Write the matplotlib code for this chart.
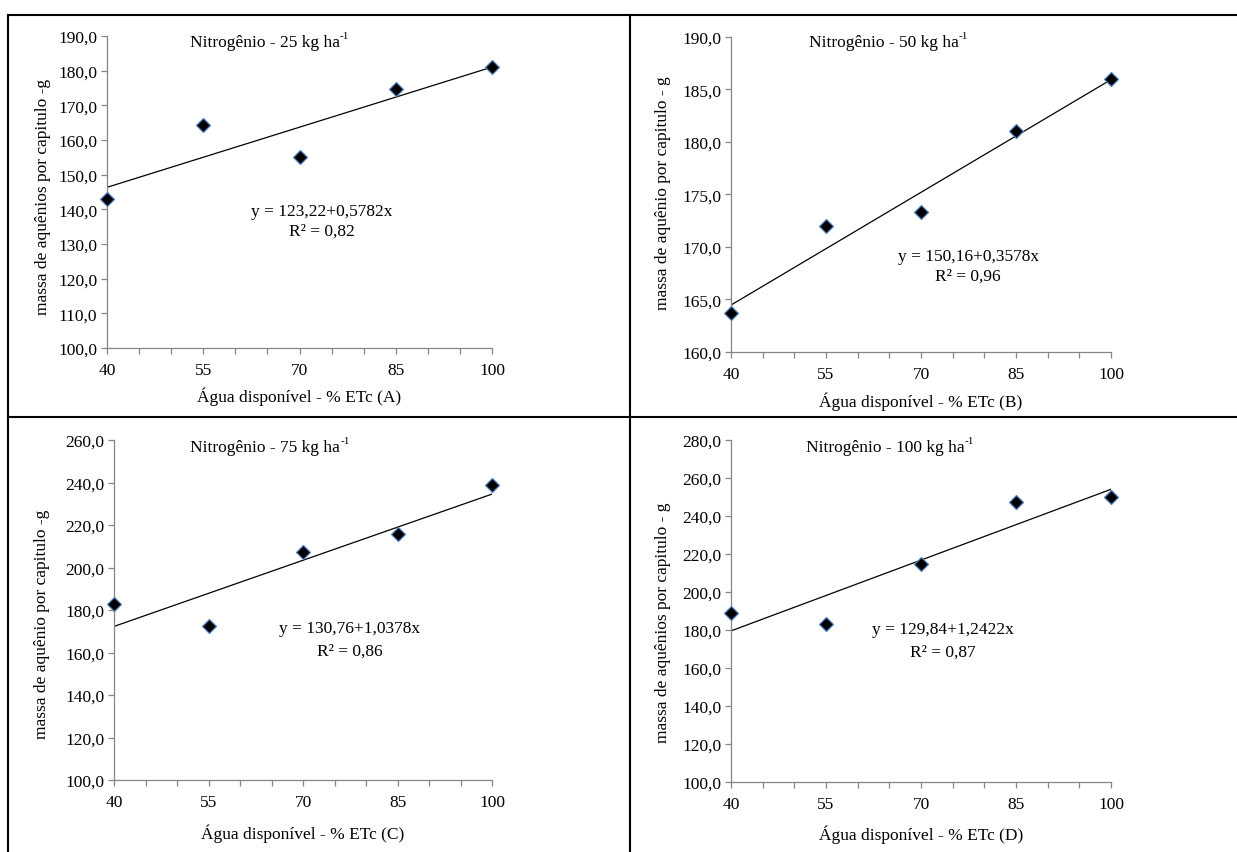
import matplotlib
matplotlib.use('Agg')
import matplotlib.pyplot as plt
from matplotlib.lines import Line2D
from matplotlib.ticker import FuncFormatter, MultipleLocator, FixedLocator

plt.rcParams['font.family'] = ['Liberation Serif', 'DejaVu Serif']

agua = [40, 55, 70, 85, 100]

massa_25 = [143.0, 164.3, 155.2, 174.7, 181.1]
massa_50 = [163.7, 172.0, 173.3, 181.0, 186.0]
massa_75 = [182.7, 172.6, 207.1, 215.7, 239.0]
massa_100 = [189.1, 183.0, 214.8, 247.2, 250.0]

intercepto = [123.22, 150.16, 130.76, 129.84]
inclinacao = [0.5782, 0.3578, 1.0378, 1.2422]
r2 = ['0,82', '0,96', '0,86', '0,87']
doses = ['25', '50', '75', '100']
letras = ['A', 'B', 'C', 'D']
ylabels = ['massa de aquênios por capitulo -g',
           'massa de aquênio por capitulo - g',
           'massa de aquênio por capitulo -g',
           'massa de aquênios por capitulo - g']
ylims = [(100, 190, 10), (160, 190, 5), (100, 260, 20), (100, 280, 20)]

W, H = 1237, 853
fig = plt.figure(figsize=(W / 100, H / 100), dpi=100)

# pixel boxes of each plot area: x0, y0(top), x1, y1(bottom)
caixas = [(107, 37, 492, 349), (731, 38, 1111, 353),
          (114, 441, 492, 781), (731, 441, 1111, 783)]
# text positions in axes fraction
titulo_pos = [(0.410, 0.981), (0.403, 0.984), (0.400, 0.979), (0.406, 0.980)]
eq_pos = [(0.558, 0.439, 0.375), (0.624, 0.305, 0.241),
          (0.624, 0.447, 0.379), (0.558, 0.447, 0.380)]
ylab_pos = [(-0.166, 0.487), (-0.179, 0.508), (-0.190, 0.46), (-0.179, 0.47)]
xlab_y = [-0.154, -0.155, -0.156, -0.152]

series = [massa_25, massa_50, massa_75, massa_100]
cinza = '#868686'
fs = 12.5

for i in range(4):
    x0, y0, x1, y1 = caixas[i]
    ax = fig.add_axes([x0 / W, 1 - y1 / H, (x1 - x0) / W, (y1 - y0) / H])
    ymin, ymax, passo = ylims[i]

    xs = [agua[0], agua[-1]]
    ys = [intercepto[i] + inclinacao[i] * v for v in xs]
    ax.plot(xs, ys, color='black', lw=0.9, zorder=2)
    ax.plot(agua, series[i], linestyle='none', marker='D', markersize=7,
            markerfacecolor='black', markeredgecolor='#4F81BD',
            markeredgewidth=0.9, clip_on=False, zorder=3)

    ax.set_xlim(40, 100)
    ax.set_ylim(ymin, ymax)
    ax.xaxis.set_major_locator(FixedLocator(agua))
    ax.xaxis.set_minor_locator(MultipleLocator(5))
    ax.yaxis.set_major_locator(MultipleLocator(passo))
    ax.yaxis.set_major_formatter(FuncFormatter(lambda v, p: f'{v:.1f}'.replace('.', ',')))

    for s in ['top', 'right']:
        ax.spines[s].set_visible(False)
    for s in ['left', 'bottom']:
        ax.spines[s].set_color(cinza)
        ax.spines[s].set_linewidth(0.9)
    ax.tick_params(axis='both', which='both', color=cinza, width=0.9, length=4,
                   labelsize=fs, direction='out')
    ax.tick_params(axis='x', pad=6)
    ax.tick_params(axis='y', pad=3)

    ax.set_xlabel(f'Água disponível - % ETc ({letras[i]})', fontsize=fs, va='center')
    ax.xaxis.set_label_coords(0.5, xlab_y[i])
    ax.set_ylabel(ylabels[i], fontsize=fs, va='center')
    ax.yaxis.set_label_coords(*ylab_pos[i])

    tx, ty = titulo_pos[i]
    t = ax.text(tx, ty, f'Nitrogênio - {doses[i]} kg ha',
                transform=ax.transAxes, ha='center', va='center', fontsize=fs)
    ax.annotate('-1', xy=(1, 0.62), xycoords=t, ha='left', va='bottom', fontsize=8)
    ex, ey, ry = eq_pos[i]
    eq = f'y = {intercepto[i]:.2f}+{inclinacao[i]:.4f}x'.replace('.', ',')
    ax.text(ex, ey, eq, transform=ax.transAxes, ha='center', va='center', fontsize=fs)
    ax.text(ex, ry, f'R² = {r2[i]}', transform=ax.transAxes, ha='center',
            va='center', fontsize=fs)

# table borders around the panels
def linha(xa, ya, xb, yb):
    fig.add_artist(Line2D([xa / W, xb / W], [1 - ya / H, 1 - yb / H],
                          color='black', lw=1.5))

linha(8, 16, W, 16)
linha(8, 418, W, 418)
linha(8, 16, 8, H)
linha(630, 16, 630, H)

fig.savefig('out.png', dpi=100, facecolor='white')
